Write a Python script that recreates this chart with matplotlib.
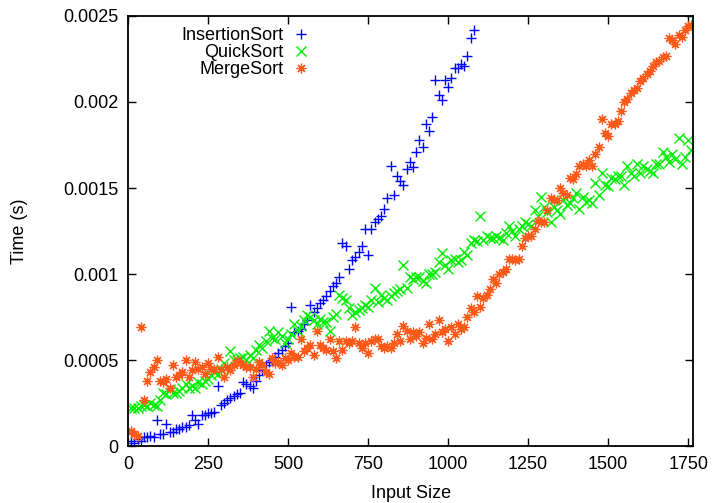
import matplotlib
matplotlib.use("Agg")
import matplotlib.pyplot as plt
from matplotlib.ticker import FixedLocator

plt.rcParams['font.family'] = ['Liberation Sans', 'DejaVu Sans']

sizes = list(range(10, 1761, 10))

insertion = [
    0.00003, 0.00002, 0.00004, 0.00003, 0.00005, 0.00005, 0.00006, 0.00005, 0.00015, 0.00007,
    0.00007, 0.00013, 0.00008, 0.00008, 0.00010, 0.00010, 0.00011, 0.00011, 0.00012, 0.00018,
    0.00015, 0.00013, 0.00018, 0.00018, 0.00019, 0.00019, 0.00020, 0.00035, 0.00024, 0.00025,
    0.00027, 0.00028, 0.00029, 0.00030, 0.00031, 0.00037, 0.00036, 0.00035, 0.00034, 0.00038,
    0.00041, 0.00044, 0.00047, 0.00049, 0.00050, 0.00052, 0.00054, 0.00056, 0.00058, 0.00060,
    0.00081, 0.00066, 0.00067, 0.00068, 0.00071, 0.00073, 0.00082, 0.00078, 0.00080, 0.00083,
    0.00085, 0.00087, 0.00090, 0.00093, 0.00095, 0.00098, 0.00118, 0.00116, 0.00103, 0.00108,
    0.00110, 0.00113, 0.00116, 0.00126, 0.00111, 0.00126, 0.00130, 0.00132, 0.00134, 0.00138,
    0.00144, 0.00163, 0.00146, 0.00157, 0.00154, 0.00152, 0.00161, 0.00165, 0.00162, 0.00171,
    0.00178, 0.00174, 0.00187, 0.00183, 0.00191, 0.00213, 0.00204, 0.00201, 0.00213, 0.00209,
    0.00214, 0.00220, 0.00220, 0.00222, 0.00221, 0.00227, 0.00237, 0.00242,
]

quick = [
    0.00022, 0.00022, 0.00022, 0.00023, 0.00024, 0.00023, 0.00025, 0.00024, 0.00023, 0.00027,
    0.00031, 0.00030, 0.00033, 0.00031, 0.00031, 0.00032, 0.00034, 0.00036, 0.00034, 0.00035,
    0.00034, 0.00037, 0.00036, 0.00038, 0.00039, 0.00041, 0.00043, 0.00042, 0.00045, 0.00048,
    0.00046, 0.00055, 0.00050, 0.00050, 0.00051, 0.00052, 0.00050, 0.00053, 0.00051, 0.00056,
    0.00059, 0.00057, 0.00061, 0.00067, 0.00063, 0.00062, 0.00066, 0.00064, 0.00060, 0.00062,
    0.00065, 0.00071, 0.00067, 0.00070, 0.00073, 0.00076, 0.00075, 0.00073, 0.00071, 0.00074,
    0.00072, 0.00072, 0.00067, 0.00075, 0.00077, 0.00088, 0.00086, 0.00085, 0.00080, 0.00076,
    0.00078, 0.00079, 0.00080, 0.00082, 0.00081, 0.00085, 0.00092, 0.00084, 0.00088, 0.00086,
    0.00085, 0.00087, 0.00089, 0.00090, 0.00091, 0.00105, 0.00092, 0.00098, 0.00097, 0.00098,
    0.00098, 0.00096, 0.00095, 0.00100, 0.00100, 0.00101, 0.00107, 0.00112, 0.00105, 0.00103,
    0.00108, 0.00109, 0.00107, 0.00108, 0.00113, 0.00111, 0.00118, 0.00120, 0.00119, 0.00134,
    0.00120, 0.00122, 0.00121, 0.00121, 0.00122, 0.00121, 0.00120, 0.00124, 0.00128, 0.00125,
    0.00122, 0.00126, 0.00128, 0.00130, 0.00129, 0.00128, 0.00137, 0.00134, 0.00145, 0.00139,
    0.00136, 0.00130, 0.00139, 0.00137, 0.00135, 0.00143, 0.00140, 0.00141, 0.00144, 0.00147,
    0.00138, 0.00145, 0.00142, 0.00143, 0.00141, 0.00153, 0.00146, 0.00159, 0.00152, 0.00151,
    0.00156, 0.00155, 0.00157, 0.00157, 0.00152, 0.00163, 0.00159, 0.00157, 0.00164, 0.00159,
    0.00163, 0.00161, 0.00160, 0.00159, 0.00164, 0.00164, 0.00171, 0.00168, 0.00165, 0.00170,
    0.00167, 0.00179, 0.00164, 0.00168, 0.00178, 0.00172,
]

merge = [
    0.00009, 0.00007, 0.00006, 0.00069, 0.00027, 0.00038, 0.00043, 0.00046, 0.00050, 0.00038,
    0.00037, 0.00039, 0.00034, 0.00047, 0.00040, 0.00041, 0.00043, 0.00050, 0.00040, 0.00044,
    0.00049, 0.00045, 0.00046, 0.00042, 0.00048, 0.00045, 0.00045, 0.00052, 0.00045, 0.00040,
    0.00046, 0.00044, 0.00047, 0.00050, 0.00048, 0.00047, 0.00046, 0.00046, 0.00040, 0.00045,
    0.00049, 0.00047, 0.00043, 0.00042, 0.00051, 0.00048, 0.00049, 0.00047, 0.00051, 0.00050,
    0.00054, 0.00052, 0.00052, 0.00062, 0.00055, 0.00057, 0.00059, 0.00053, 0.00067, 0.00059,
    0.00057, 0.00056, 0.00062, 0.00055, 0.00051, 0.00061, 0.00056, 0.00061, 0.00060, 0.00061,
    0.00069, 0.00060, 0.00057, 0.00060, 0.00054, 0.00061, 0.00062, 0.00062, 0.00058, 0.00057,
    0.00058, 0.00057, 0.00060, 0.00065, 0.00061, 0.00070, 0.00067, 0.00062, 0.00066, 0.00064,
    0.00066, 0.00060, 0.00063, 0.00071, 0.00062, 0.00065, 0.00073, 0.00066, 0.00068, 0.00061,
    0.00069, 0.00065, 0.00071, 0.00068, 0.00069, 0.00075, 0.00080, 0.00078, 0.00087, 0.00081,
    0.00086, 0.00088, 0.00091, 0.00097, 0.00095, 0.00100, 0.00101, 0.00103, 0.00109, 0.00109,
    0.00108, 0.00109, 0.00116, 0.00121, 0.00122, 0.00122, 0.00126, 0.00131, 0.00130, 0.00130,
    0.00137, 0.00144, 0.00143, 0.00143, 0.00150, 0.00147, 0.00146, 0.00156, 0.00155, 0.00158,
    0.00163, 0.00164, 0.00163, 0.00166, 0.00163, 0.00170, 0.00174, 0.00190, 0.00182, 0.00180,
    0.00187, 0.00187, 0.00189, 0.00195, 0.00200, 0.00202, 0.00205, 0.00207, 0.00208, 0.00212,
    0.00214, 0.00216, 0.00218, 0.00221, 0.00223, 0.00224, 0.00226, 0.00227, 0.00237, 0.00236,
    0.00234, 0.00239, 0.00238, 0.00242, 0.00244, 0.00245,
]

x_ticks = [0, 250, 500, 750, 1000, 1250, 1500, 1750]
y_ticks = [0, 0.0005, 0.001, 0.0015, 0.002, 0.0025]
y_tick_labels = ['0', '0.0005', '0.001', '0.0015', '0.002', '0.0025']

fig = plt.figure(figsize=(7.12, 5.03), dpi=100)
ax = fig.add_axes([0.1798, 0.1133, 0.7940, 0.8549])

ax.plot(sizes[:len(insertion)], insertion, linestyle='none', marker='+',
        markersize=7, markeredgewidth=1.0, color='#0000ff', label='InsertionSort')
ax.plot(sizes, quick, linestyle='none', marker='x',
        markersize=6.5, markeredgewidth=1.0, color='#00ee00', label='QuickSort')
ax.plot(sizes, merge, linestyle='none', marker=(8, 2, 0),
        markersize=7, markeredgewidth=0.9, color='#ff5a1a', label='MergeSort')

ax.set_xlim(0, 1766)
ax.set_ylim(0, 0.0025)
ax.xaxis.set_major_locator(FixedLocator(x_ticks))
ax.set_xticklabels([str(t) for t in x_ticks])
ax.yaxis.set_major_locator(FixedLocator(y_ticks))
ax.set_yticklabels(y_tick_labels)
ax.tick_params(direction='in', length=6, width=1.0, top=True, right=True,
               labelsize=13, pad=7, colors='black')
for s in ax.spines.values():
    s.set_linewidth(1.3)

ax.set_xlabel('Input Size', fontsize=13, labelpad=9)
ax.set_ylabel('Time (s)', fontsize=13, labelpad=25)

ax.legend(loc='upper left', bbox_to_anchor=(0.075, 1.0), markerfirst=False,
          frameon=False, fontsize=13, handlelength=1.2, handletextpad=0.4,
          labelspacing=0.0, borderaxespad=0.2)

fig.savefig('out.png', dpi=100)
